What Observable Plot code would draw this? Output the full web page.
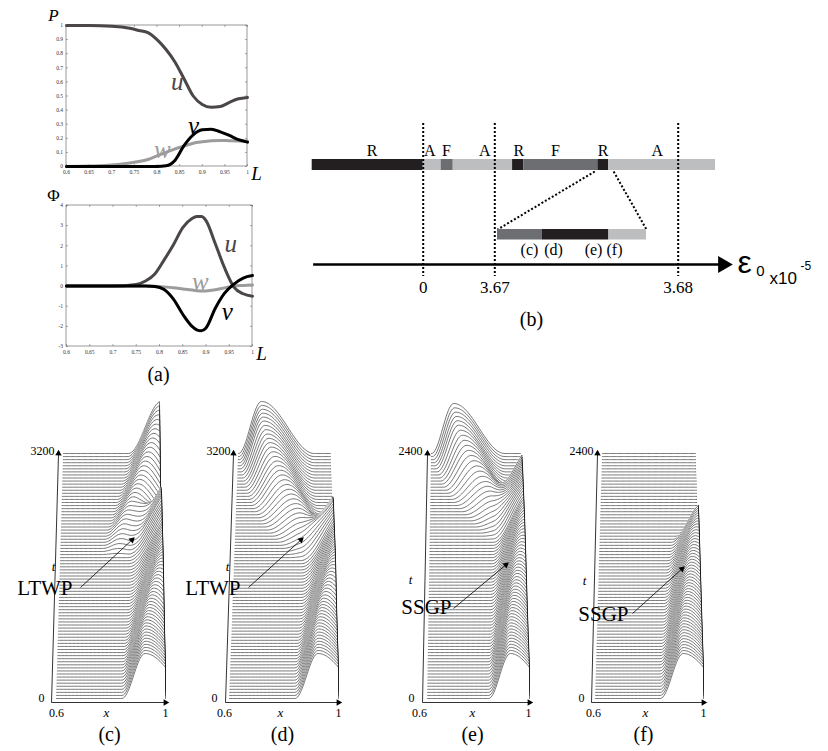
<!DOCTYPE html>
<html>
<head>
<meta charset="utf-8">
<script src="https://cdn.jsdelivr.net/npm/d3@7"></script>
<script src="https://cdn.jsdelivr.net/npm/@observablehq/plot@0.6"></script>
<style>
html,body{margin:0;padding:0;background:#fff;}
#fig{position:relative;width:828px;height:751px;overflow:hidden;background:#fff;}
</style>
</head>
<body>
<div id="fig"></div>
<script>
// ================= DATA =================
// (a) upper panel: P versus L
const profL_P = [0.6,0.65,0.7,0.74,0.76,0.78,0.8,0.82,0.84,0.86,0.88,0.9,0.92,0.94,0.96,0.98,1.0];
const P_u = [1,1,0.995,0.98,0.965,0.95,0.9,0.83,0.74,0.62,0.5,0.44,0.42,0.425,0.455,0.48,0.49];
const P_v = [0,0,0,0,0,0,0,0.005,0.045,0.15,0.225,0.26,0.265,0.245,0.22,0.19,0.173];
const P_w = [0,0.003,0.01,0.025,0.035,0.05,0.075,0.1,0.125,0.145,0.165,0.175,0.182,0.185,0.183,0.181,0.18];
// (a) lower panel: Phi versus L
const profL_Phi = [0.6,0.7,0.75,0.77,0.79,0.81,0.83,0.85,0.87,0.88,0.89,0.9,0.92,0.94,0.96,0.98,1.0];
const Phi_u = [0,0,0.08,0.25,0.6,1.3,2.05,2.9,3.35,3.45,3.45,3.25,2.1,0.9,-0.05,-0.38,-0.5];
const Phi_v = [0,0,0,0,-0.02,-0.17,-0.65,-1.4,-2.0,-2.17,-2.22,-2.08,-1.1,-0.35,0.1,0.4,0.52];
const Phi_w = [0,0,0,0,-0.01,-0.04,-0.08,-0.14,-0.2,-0.23,-0.25,-0.24,-0.18,-0.09,0,0.03,0.05];
const ticksL = [0.6,0.65,0.7,0.75,0.8,0.85,0.9,0.95,1];
const ticksP = [0,0.1,0.2,0.3,0.4,0.5,0.6,0.7,0.8,0.9,1];
const ticksPhi = [-3,-2,-1,0,1,2,3,4];

// (b) regimes along eps0 (x1e-5), broken axis
const regimeEdges = [-6, 0, 0.92, 1.54, 3.67097, 3.67158, 3.67562, 3.6762, 3.68206];
const regimeKinds = ["R","A","F","A","R","F","R","A"];
const regimeLabelAt = [-2.76, 0.34, 1.19, 3.16, 3.67131, 3.67331, 3.67591, 3.67886];
const regimeLabel = ["R","A","F","A","R","F","R","A"];
const epsTicks = [0, 3.67, 3.68];
const epsTickText = ["0", "3.67", "3.68"];
const zoomEdges = [3.67545, 3.67576, 3.67622, 3.67648];
const zoomKinds = ["F","R","A"];
const zoomLabelAt = [3.675671, 3.675837, 3.676114, 3.676259];
const zoomLabel = ["(c)","(d)","(e)","(f)"];

// (c)-(f) space-time waterfalls: keyframes [pulse, t/tmax, centre x, amplitude, left width, right width]
const tMax = {c: 3200, d: 3200, e: 2400, f: 2400};
const wavesC = [
  [1,0.00,0.925,0.90,0.085,0.20],[1,0.12,0.930,0.90,0.09,0.18],[1,0.22,0.950,0.90,0.10,0.15],
  [1,0.32,0.980,0.95,0.12,0.12],[1,0.44,1.020,1.00,0.15,0.12],[1,0.54,1.050,1.10,0.18,0.12],
  [1,0.64,1.060,1.15,0.20,0.12],[1,0.72,1.080,1.10,0.20,0.12],[1,0.76,1.120,0.80,0.18,0.10],
  [1,0.78,1.200,0.50,0.15,0.10],
  [3,0.58,0.820,0.00,0.06,0.08],[3,0.68,0.860,0.30,0.08,0.10],[3,0.80,0.920,0.55,0.10,0.12],
  [3,0.90,0.970,0.80,0.12,0.12],[3,1.00,1.010,1.05,0.14,0.12]
];
const wavesD = [
  [1,0.00,0.925,0.90,0.085,0.20],[1,0.12,0.930,0.90,0.09,0.18],[1,0.22,0.950,0.90,0.10,0.15],
  [1,0.32,0.980,0.95,0.12,0.12],[1,0.44,1.020,1.00,0.15,0.12],[1,0.54,1.050,1.05,0.18,0.12],
  [1,0.64,1.060,1.05,0.20,0.12],[1,0.72,1.090,0.90,0.20,0.12],[1,0.76,1.150,0.60,0.18,0.10],
  [4,0.56,0.930,0.00,0.10,0.10],[4,0.63,0.900,0.20,0.12,0.10],[4,0.71,0.850,0.40,0.14,0.12],
  [4,0.79,0.790,0.62,0.13,0.15],[4,0.87,0.740,0.82,0.11,0.19],[4,0.94,0.710,0.96,0.10,0.22],
  [4,1.00,0.700,1.04,0.10,0.23]
];
const wavesE = [
  [1,0.00,0.925,0.90,0.085,0.20],[1,0.14,0.930,0.90,0.09,0.18],[1,0.26,0.950,0.90,0.10,0.15],
  [1,0.40,0.975,0.92,0.12,0.13],[1,0.52,1.000,0.95,0.14,0.12],[1,0.64,1.030,1.00,0.16,0.12],
  [1,0.76,1.050,1.05,0.18,0.12],[1,0.84,1.070,1.05,0.20,0.12],[1,0.90,1.120,0.80,0.18,0.10],
  [1,0.92,1.200,0.50,0.15,0.10],
  [4,0.64,0.940,0.00,0.10,0.10],[4,0.72,0.900,0.20,0.12,0.10],[4,0.80,0.840,0.42,0.14,0.13],
  [4,0.87,0.770,0.66,0.12,0.17],[4,0.94,0.720,0.88,0.10,0.21],[4,1.00,0.700,1.00,0.10,0.23]
];
const wavesF = [
  [1,0.00,0.925,0.90,0.085,0.20],[1,0.14,0.930,0.88,0.09,0.18],[1,0.28,0.950,0.85,0.10,0.15],
  [1,0.42,0.970,0.82,0.11,0.14],[1,0.54,0.990,0.80,0.12,0.13],[1,0.64,1.020,0.78,0.13,0.12],
  [1,0.70,1.060,0.65,0.12,0.10],[1,0.73,1.120,0.40,0.12,0.10]
];
const nLines = 80;

// ================= LAYOUT / STYLE =================
const W = 828, H = 751;
const serif = "'Liberation Serif','Times New Roman',serif";
const sans = "'Liberation Sans',Arial,sans-serif";
const fig = document.getElementById("fig");
const baseStyle = "position:absolute;left:0;top:0;background:transparent;overflow:visible;max-width:none;";
function layer(opts) {
  const p = Plot.plot({width: W, height: H, margin: 0, style: baseStyle, ...opts});
  fig.appendChild(p);
  return p;
}
const cU = "#4b4648", cV = "#000000", cW = "#9d9b9c";
const kindColor = {R: "#231f20", F: "#6d6e71", A: "#bcbec0"};
const k = d => d; // identity accessor

// ---------- (a) profile panels ----------
function profilePanel(Ls, us, vs, ws, yTicks, xr, yr, ydom, labels, axisLab) {
  const [y0, y1] = ydom;
  const span = y1 - y0;
  const rows = (arr) => Ls.map((L, i) => ({L, val: arr[i]}));
  layer({
    x: {domain: [0.6, 1], range: xr, axis: null},
    y: {domain: ydom, range: yr, axis: null},
    color: {type: "identity"},
    marks: [
      Plot.rect([0], {x1: () => 0.6, x2: () => 1, y1: () => y0, y2: () => y1, fill: "none", stroke: "#555", strokeWidth: 0.6}),
      Plot.ruleX(ticksL, {x: k, y1: () => y0, y2: () => y0 + span * 0.014, stroke: "#555", strokeWidth: 0.5}),
      Plot.ruleX(ticksL, {x: k, y1: () => y1, y2: () => y1 - span * 0.014, stroke: "#555", strokeWidth: 0.5}),
      Plot.ruleY(yTicks, {y: k, x1: () => 0.6, x2: () => 0.6045, stroke: "#555", strokeWidth: 0.5}),
      Plot.ruleY(yTicks, {y: k, x1: () => 1, x2: () => 0.9955, stroke: "#555", strokeWidth: 0.5}),
      Plot.text(ticksL, {x: k, y: () => y0, dy: 6, text: d => String(d), fontSize: 5.5, fontFamily: serif, fill: "#333"}),
      Plot.text(yTicks, {x: () => 0.6, y: k, dx: -3.5, textAnchor: "end", text: d => String(d), fontSize: 5.5, fontFamily: serif, fill: "#333"}),
      Plot.line(rows(ws), {x: "L", y: "val", stroke: cW, strokeWidth: 3, curve: "monotone-x"}),
      Plot.line(rows(us), {x: "L", y: "val", stroke: cU, strokeWidth: 3, curve: "monotone-x"}),
      Plot.line(rows(vs), {x: "L", y: "val", stroke: cV, strokeWidth: 3, curve: "monotone-x"}),
      Plot.text(labels, {x: "L", y: "val", text: "s", fill: "c", fontSize: 25, fontStyle: "italic", fontFamily: serif}),
      Plot.text([axisLab[0]], {x: () => 0.6, y: () => y1, dx: -13, dy: -10, text: k, fontSize: 17, fontStyle: axisLab[2], fontFamily: serif}),
      Plot.text([axisLab[1]], {x: () => 1, y: () => y0, dx: 9, dy: 7, text: k, fontSize: 19, fontStyle: "italic", fontFamily: serif})
    ]
  });
}
profilePanel(profL_P, P_u, P_v, P_w, ticksP, [66, 247], [166, 25], [0, 1],
  [{L: 0.845, val: 0.6, s: "u", c: cU}, {L: 0.881, val: 0.29, s: "v", c: cV}, {L: 0.812, val: 0.115, s: "w", c: cW}],
  ["P", "L", "italic"]);
profilePanel(profL_Phi, Phi_u, Phi_v, Phi_w, ticksPhi, [66, 252], [346, 205], [-3, 4],
  [{L: 0.953, val: 2.11, s: "u", c: cU}, {L: 0.888, val: 0.18, s: "w", c: cW}, {L: 0.946, val: -1.31, s: "v", c: cV}],
  ["\u03A6", "L", "normal"]);

// ---------- (b) regime bar ----------
const bDomain = [-6, 0, 3.67, 3.68, 3.683];
const bRange = [311.7, 422.7, 494.3, 677.7, 732];
const bx = d3.scaleLinear(bDomain, bRange);
const zx = d3.scaleLinear([zoomEdges[0], zoomEdges[zoomEdges.length - 1]], [497, 646]);
const toMain = e => bx.invert(zx(e));
const segs = regimeKinds.map((kd, i) => ({kd, x1: regimeEdges[i], x2: regimeEdges[i + 1]}));
const zsegs = zoomKinds.map((kd, i) => ({kd, x1: toMain(zoomEdges[i]), x2: toMain(zoomEdges[i + 1])}));
const zEnds = [zoomEdges[0], zoomEdges[zoomEdges.length - 1]];
const dots = "2,2";
layer({
  x: {type: "linear", domain: bDomain, range: bRange, axis: null},
  y: {type: "identity", axis: null},
  color: {type: "identity"},
  marks: [
    Plot.rect(segs, {x1: "x1", x2: "x2", y1: () => 159, y2: () => 170, fill: d => kindColor[d.kd]}),
    Plot.text(regimeLabelAt, {x: k, y: () => 150, text: (d, i) => regimeLabel[i], fontSize: 16, fontFamily: serif}),
    Plot.ruleX(epsTicks, {x: k, y1: () => 123, y2: () => 276, stroke: "#000", strokeWidth: 2, strokeDasharray: dots}),
    Plot.link(zEnds, {x1: k, y1: () => 171, x2: d => toMain(d), y2: () => 229, stroke: "#000", strokeWidth: 2, strokeDasharray: dots}),
    Plot.rect(zsegs, {x1: "x1", x2: "x2", y1: () => 229, y2: () => 239.5, fill: d => kindColor[d.kd]}),
    Plot.text(zoomLabelAt, {x: d => toMain(d), y: () => 249, text: (d, i) => zoomLabel[i], fontSize: 16, fontFamily: serif}),
    Plot.link([0], {x1: () => -5.95, x2: () => bx.invert(722), y1: () => 264, y2: () => 264, stroke: "#000", strokeWidth: 2.6}),
    Plot.dot([0], {x: () => bx.invert(722.5), y: () => 264, symbol: "triangle", r: 6.3, rotate: 90, fill: "#000", stroke: "none"}),
    Plot.text(epsTicks, {x: k, y: () => 287, text: (d, i) => epsTickText[i], fontSize: 17, fontFamily: serif})
  ]
});

// ---------- (c)-(f) waterfalls ----------
function kernel(u) { return Math.abs(u) >= 1 ? 0 : 0.5 * (1 + Math.cos(Math.PI * u)); }
function pulseState(rows, f) {
  if (f < rows[0][1] - 1e-9 || f > rows[rows.length - 1][1] + 1e-9) return null;
  for (let i = 0; i < rows.length - 1; i++) {
    const a = rows[i], b = rows[i + 1];
    if (f <= b[1] + 1e-9) {
      const s = b[1] > a[1] ? Math.max(0, Math.min(1, (f - a[1]) / (b[1] - a[1]))) : 0;
      return [2, 3, 4, 5].map(j => a[j] + (b[j] - a[j]) * s);
    }
  }
  return rows[rows.length - 1].slice(2, 6);
}
const ampPx = 50;
function waterfall(waves, T, g) {
  const ids = [...new Set(waves.map(r => r[0]))];
  const groups = ids.map(id => waves.filter(r => r[0] === id).sort((a, b) => a[1] - b[1]));
  const xs = d3.range(81).map(i => 0.6 + i * 0.005);
  const pxT = (g.yb - g.yt) / T;
  const toX = px => 0.6 + (px - g.L0) / (g.R0 - g.L0) * 0.4;
  const toT = py => (g.yb - py) / pxT;
  const bottomT = toT(g.yb + 1.5);
  const marks = [];
  for (let i = nLines; i >= 0; i--) {
    const f = i / nLines, t = f * T;
    const st = groups.map(gr => pulseState(gr, f)).filter(Boolean);
    const Lf = g.L0 + (g.L1 - g.L0) * f, Rf = g.R0 + (g.R1 - g.R0) * f;
    const X = x => toX(Lf + (x - 0.6) / 0.4 * (Rf - Lf));
    const pts = xs.map(x => {
      let h = 0;
      for (const [c, a, wl, wr] of st) h += a * kernel((x - c) / (x < c ? wl : wr));
      return {x: X(x), y: t + h * ampPx / pxT};
    });
    const path = pts.concat([{x: X(1), y: t}]);
    marks.push(Plot.area(pts, {x1: "x", y1: () => bottomT, y2: "y", fill: "white"}));
    marks.push(Plot.line(path, {x: "x", y: "y", stroke: "#1c1c1c", strokeWidth: 0.6}));
  }
  const [ax0, ay0, ax1, ay1] = g.tAxis;
  const [xa0, xa1, ya] = g.xAxis;
  marks.push(Plot.link([0], {x1: () => toX(ax0), y1: () => toT(ay0), x2: () => toX(ax1), y2: () => toT(ay1 + 3), stroke: "#000", strokeWidth: 0.8}));
  marks.push(Plot.dot([0], {x: () => toX(ax1), y: () => toT(ay1 + 2), symbol: "triangle", r: 2.4, rotate: Math.atan2(ax1 - ax0, ay0 - ay1) * 180 / Math.PI, fill: "#000", stroke: "none"}));
  marks.push(Plot.link([0], {x1: () => toX(xa0), y1: () => toT(ya), x2: () => toX(xa1 - 3), y2: () => toT(ya), stroke: "#000", strokeWidth: 0.8}));
  marks.push(Plot.dot([0], {x: () => toX(xa1 - 2), y: () => toT(ya), symbol: "triangle", r: 2.4, rotate: 90, fill: "#000", stroke: "none"}));
  layer({x: {domain: [0.6, 1], range: [g.L0, g.R0], axis: null}, y: {domain: [0, T], range: [g.yb, g.yt], axis: null}, marks});
}
const geo = {
  c: {L0: 56, L1: 63, R0: 165, R1: 159, yb: 698, yt: 453, tAxis: [51, 702, 58, 451], xAxis: [51, 167, 702]},
  d: {L0: 229, L1: 238, R0: 338, R1: 330, yb: 698, yt: 453, tAxis: [225, 702, 233, 451], xAxis: [225, 340, 702]},
  e: {L0: 427, L1: 431, R0: 529, R1: 520, yb: 698, yt: 453, tAxis: [422, 702, 427, 451], xAxis: [422, 531, 702]},
  f: {L0: 595, L1: 602, R0: 703, R1: 695, yb: 698, yt: 453, tAxis: [591, 702, 597, 451], xAxis: [591, 705, 702]}
};
waterfall(wavesC, tMax.c, geo.c);
waterfall(wavesD, tMax.d, geo.d);
waterfall(wavesE, tMax.e, geo.e);
waterfall(wavesF, tMax.f, geo.f);

// ---------- annotations (pixel layer) ----------
const captions = [
  {x: 158, y: 374, s: "(a)"}, {x: 531, y: 319, s: "(b)"},
  {x: 109, y: 734, s: "(c)"}, {x: 282, y: 734, s: "(d)"}, {x: 472, y: 734, s: "(e)"}, {x: 643, y: 734, s: "(f)"}
];
const tTop = [
  {x: 54, y: 451, s: String(tMax.c)}, {x: 230, y: 451, s: String(tMax.d)},
  {x: 422, y: 451, s: String(tMax.e)}, {x: 593, y: 451, s: String(tMax.f)}
];
const tZero = [{x: 41, y: 698}, {x: 214, y: 698}, {x: 411, y: 698}, {x: 581, y: 698}];
const xLeft = [{x: 56, y: 713}, {x: 224, y: 713}, {x: 419, y: 713}, {x: 593, y: 713}];
const xRight = [{x: 165, y: 713}, {x: 338, y: 713}, {x: 528, y: 713}, {x: 703, y: 713}];
const xName = [{x: 106, y: 712}, {x: 280, y: 712}, {x: 472, y: 712}, {x: 645, y: 712}];
const tName = [{x: 53, y: 566}, {x: 227, y: 566}, {x: 410, y: 579}, {x: 584, y: 580}];
const tags = [
  {x: 72, y: 588, s: "LTWP"}, {x: 240, y: 588, s: "LTWP"},
  {x: 451, y: 607, s: "SSGP"}, {x: 628, y: 614, s: "SSGP"}
];
const pointers = [
  {x1: 80, y1: 587, x2: 133, y2: 538}, {x1: 248, y1: 587, x2: 302, y2: 538},
  {x1: 453, y1: 608, x2: 507, y2: 563}, {x1: 632, y1: 613, x2: 683, y2: 567}
];
const headAt = p => {
  const dx = p.x2 - p.x1, dy = p.y2 - p.y1, L = Math.hypot(dx, dy);
  return {x: p.x2 - dx / L * 2, y: p.y2 - dy / L * 2, a: Math.atan2(dx, -dy) * 180 / Math.PI};
};
const heads = pointers.map(headAt);
layer({
  x: {type: "identity", axis: null},
  y: {type: "identity", axis: null},
  marks: [
    Plot.text(captions, {x: "x", y: "y", text: "s", fontSize: 20, fontFamily: serif}),
    Plot.text(tTop, {x: "x", y: "y", text: "s", textAnchor: "end", fontSize: 12, fontFamily: serif}),
    Plot.text(tZero, {x: "x", y: "y", text: () => "0", fontSize: 12, fontFamily: serif}),
    Plot.text(xLeft, {x: "x", y: "y", text: () => "0.6", fontSize: 12, fontFamily: serif}),
    Plot.text(xRight, {x: "x", y: "y", text: () => "1", fontSize: 12, fontFamily: serif}),
    Plot.text(xName, {x: "x", y: "y", text: () => "x", fontSize: 13, fontStyle: "italic", fontFamily: serif}),
    Plot.text(tName, {x: "x", y: "y", text: () => "t", fontSize: 13, fontStyle: "italic", fontFamily: serif}),
    Plot.text(tags, {x: "x", y: "y", text: "s", textAnchor: "end", fontSize: 21, fontFamily: serif}),
    Plot.link(pointers, {x1: "x1", y1: "y1", x2: "x2", y2: "y2", stroke: "#000", strokeWidth: 0.8}),
    Plot.dot(heads, {x: "x", y: "y", rotate: "a", symbol: "triangle", r: 2.4, fill: "#000", stroke: "none"}),
    Plot.text(["\u03B5"], {x: () => 744, y: () => 262, text: k, fontSize: 32, fontFamily: sans}),
    Plot.text(["0"], {x: () => 760, y: () => 271, text: k, fontSize: 15, fontFamily: sans}),
    Plot.text(["x10"], {x: () => 769, y: () => 278, text: k, textAnchor: "start", fontSize: 17, fontFamily: sans}),
    Plot.text(["-5"], {x: () => 800, y: () => 266, text: k, textAnchor: "start", fontSize: 12, fontFamily: sans})
  ]
});
</script>
</body>
</html>
